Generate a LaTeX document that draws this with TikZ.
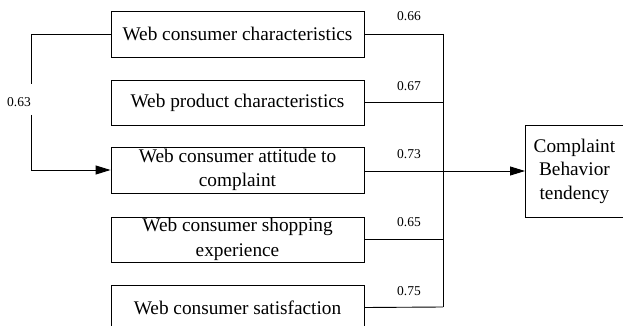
\documentclass[tikz,border=0pt]{standalone}
\usepackage{fontspec}
\setmainfont{Liberation Serif}
\usetikzlibrary{arrows.meta}
\begin{document}
\begin{tikzpicture}[x=1pt,y=-1pt,
  fbox/.style={draw, line width=0.9pt, minimum width=253pt, inner sep=0pt, align=center, font=\fontsize{19.3}{24.5}\selectfont},
  cbox/.style={draw, line width=0.9pt, minimum width=98pt, minimum height=92pt, inner sep=0pt, align=center, font=\fontsize{19.3}{23.5}\selectfont},
  conn/.style={line width=0.9pt},
  arr/.style={line width=0.9pt, -{Triangle[length=15pt,width=9pt]}},
  wlab/.style={font=\fontsize{13.5}{15}\selectfont, inner sep=1pt}]
\useasboundingbox (0,0) rectangle (623,326);
\begin{scope}
\clip (0,0) rectangle (623,326);
\node[fbox, minimum height=46pt] (b1) at (237.5,34) {Web consumer characteristics};
\node[fbox, minimum height=45pt] (b2) at (237.5,102.5) {Web product characteristics};
\node[fbox, minimum height=46pt] (b3) at (237.5,170) {Web consumer attitude to\\complaint};
\node[fbox, minimum height=45pt] (b4) at (237.5,239.5) {Web consumer shopping\\experience};
\node[fbox, minimum height=45pt] (b5) at (237.5,307.5) {Web consumer satisfaction};
\node[cbox, anchor=west] (cb) at (525,171) {Complaint\\Behavior\\tendency};
\end{scope}
\coordinate (j1) at (443,34);
\coordinate (j5) at (443,307);
\coordinate (j3) at (443,171);
\draw[conn] (b1.east) -- (j1);
\draw[conn] (b2.east) -- (443,102.5);
\draw[conn] (b4.east) -- (443,239.5);
\draw[conn] (b5.east) -- (j5);
\draw[conn] (j1) -- (j5);
\draw[arr] (b3.east |- j3) -- (cb.west);
\node[wlab] (l1) at (409,16) {0.66};
\node[wlab] (l2) at (409,86) {0.67};
\node[wlab] (l3) at (409,154) {0.73};
\node[wlab] (l4) at (409,222) {0.65};
\node[wlab] (l5) at (409,291) {0.75};
\coordinate (lt) at (31,34);
\coordinate (lb) at (31,170);
\node[wlab] (l6) at (19,102) {0.63};
\draw[conn] (b1.west) -- (lt) -- (31,84);
\draw[arr] (31,115) -- (lb) -- (b3.west);
\end{tikzpicture}
\end{document}
